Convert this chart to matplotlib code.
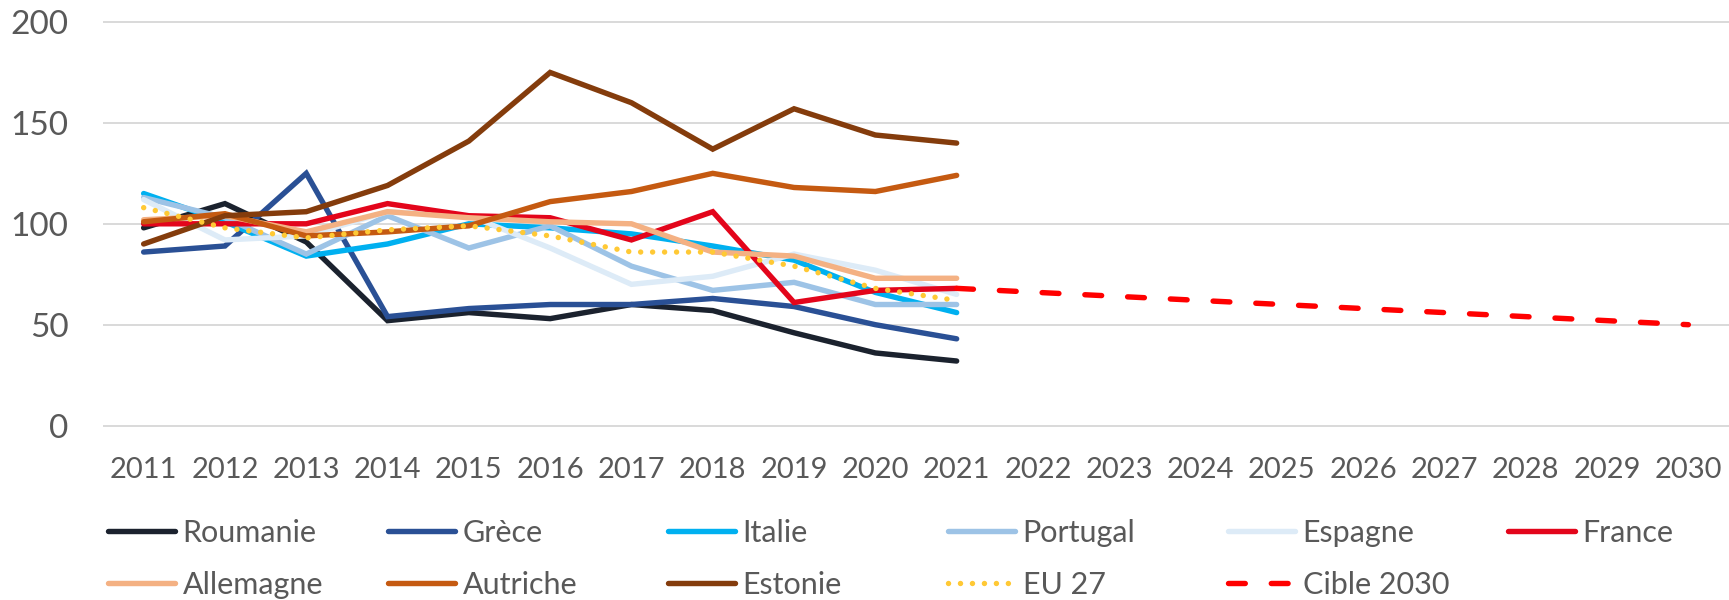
import matplotlib.pyplot as plt
from matplotlib.lines import Line2D

plt.rcParams['font.family'] = ['Lato', 'DejaVu Sans']

years = [str(y) for y in range(2011, 2031)]
hist_years = years[:11]
target_years = years[10:]

roumanie = [98, 110, 91, 52, 56, 53, 60, 57, 46, 36, 32]
grece = [86, 89, 125, 54, 58, 60, 60, 63, 59, 50, 43]
italie = [115, 101, 84, 90, 100, 98, 95, 89, 82, 66, 56]
portugal = [113, 103, 85, 104, 88, 99, 79, 67, 71, 60, 60]
espagne = [112, 92, 94, 106, 104, 88, 70, 74, 85, 77, 65]
france = [100, 100, 100, 110, 104, 103, 92, 106, 61, 67, 68]
allemagne = [102, 104, 96, 106, 103, 101, 100, 86, 84, 73, 73]
autriche = [101, 105, 94, 96, 99, 111, 116, 125, 118, 116, 124]
estonie = [90, 104, 106, 119, 141, 175, 160, 137, 157, 144, 140]
eu27 = [108, 98, 93, 97, 99, 94, 86, 86, 79, 68, 62]
cible = [68, 66, 64, 62, 60, 58, 56, 54, 52, 50]

W, H = 1729, 600
fig = plt.figure(figsize=(W / 100, H / 100), dpi=100)
# axes box in pixels: left 103, top 21, bottom 426.6
ax = fig.add_axes([103 / W, (H - 426.6) / H, (W - 103) / W, (426.6 - 21.0) / H])

lw = 3.9
x_hist = list(range(len(hist_years)))
x_target = list(range(10, 10 + len(target_years)))

series = [
    ("Roumanie", roumanie, "#1B222E"),
    ("Grèce", grece, "#2A5095"),
    ("Italie", italie, "#00B0F0"),
    ("Portugal", portugal, "#9DC3E6"),
    ("Espagne", espagne, "#DDEBF7"),
    ("France", france, "#E3051B"),
    ("Allemagne", allemagne, "#F4B183"),
    ("Autriche", autriche, "#C55A11"),
    ("Estonie", estonie, "#843C0C"),
]

handles = {}
for name, vals, col in series:
    ln, = ax.plot(x_hist, vals, color=col, lw=lw, solid_capstyle='round',
                  solid_joinstyle='miter', label=name)
    handles[name] = ln

ln, = ax.plot(x_hist, eu27, color="#FFC935", lw=lw, linestyle=(0, (0.01, 2.2)),
              dash_capstyle='round', label="EU 27")
handles["EU 27"] = ln
ln, = ax.plot(x_target, cible, color="#FF0000", lw=lw, linestyle=(0, (3.1, 4.8)),
              dash_capstyle='round', label="Cible 2030")
handles["Cible 2030"] = ln

ax.set_xlim(-0.5, 19.5)
ax.set_ylim(-0.5, 200.5)
ax.set_yticks([0, 50, 100, 150, 200])
ax.set_xticks(range(len(years)))
ax.set_xticklabels(years)
ax.yaxis.grid(True, color="#D9D9D9", lw=1.4)
ax.set_axisbelow(True)
for s in ax.spines.values():
    s.set_visible(False)
ax.tick_params(axis='y', length=0, pad=25, labelsize=24, labelcolor="#595959")
ax.tick_params(axis='x', length=0, pad=22, labelsize=21, labelcolor="#595959")

# legend laid out on a fixed grid, six columns, two rows
order = [["Roumanie", "Grèce", "Italie", "Portugal", "Espagne", "France"],
         ["Allemagne", "Autriche", "Estonie", "EU 27", "Cible 2030"]]
row_y = [532.7, 585.0]
for r, names in enumerate(order):
    for c, name in enumerate(names):
        h = handles[name]
        fig.legend([h], [name], loc='center left',
                   bbox_to_anchor=((107.7 + c * 280) / W, (H - row_y[r]) / H),
                   bbox_transform=fig.transFigure, frameon=False,
                   borderpad=0, borderaxespad=0, handlelength=2.2,
                   handletextpad=0.25, fontsize=22, labelcolor="#595959")

fig.savefig("out.png", dpi=100)
